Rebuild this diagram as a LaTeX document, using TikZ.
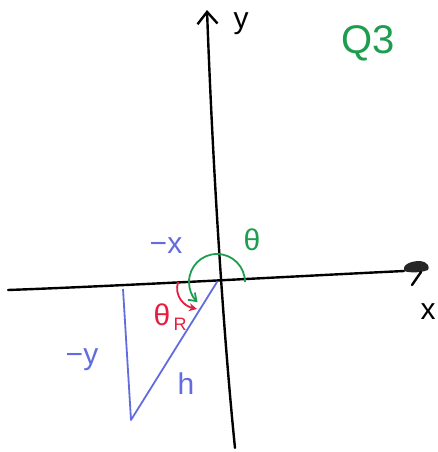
\documentclass[tikz,border=0pt]{standalone}
\usepackage{fontspec}
\setmainfont{Liberation Sans}
\usetikzlibrary{arrows.meta}
\definecolor{penblue}{RGB}{98,108,222}
\definecolor{pengreen}{RGB}{28,158,78}
\definecolor{penred}{RGB}{232,28,62}
\tikzset{
  ink/.style={line width=2.4pt,line cap=round},
  lbl/.style={font=\fontsize{30}{36}\selectfont,inner sep=0pt}
}
\begin{document}
\begin{tikzpicture}[x=1pt,y=1pt]
      \useasboundingbox (0,0) rectangle (438,-452);
      \coordinate (O) at (217,-282);
      \coordinate (xl) at (8,-290);
      \coordinate (xr) at (404,-271);
      \coordinate (yb) at (235,-448);
      \coordinate (yt) at (207,-10);
      % axes
      \draw[ink] (xl) .. controls (120,-286) and (300,-276) .. (xr);
      \fill[black!85] (xr) .. controls (402,-265) and (410,-261) .. (420,-261)
        .. controls (428,-262) and (430,-267) .. (428,-270)
        .. controls (420,-273) and (410,-273) .. cycle;
      \draw[ink] (421,-272) -- (412,-285);
      \draw[ink,-{Straight Barb[length=12pt,width=20pt]}] (yb) .. controls (226,-360) and (214,-200) .. (yt);
      \node[lbl] (ylab) at (241,-24) {y};
      \node[lbl] (xlab) at (428,-312) {x};
      \node[lbl,pengreen,font=\fontsize{40}{46}\selectfont] (quad) at (368,-43) {Q3};
      % triangle
      \coordinate (tb) at (131,-420);
      \coordinate (tl) at (123,-289);
      \draw[penblue,line width=1.8pt,line join=round] (O) -- (tb) -- (tl);
      \node[lbl,penblue] (mx) at (166,-246) {−x};
      \node[lbl,penblue] (my) at (82,-360) {−y};
      \node[lbl,penblue] (hyp) at (186,-384) {h};
      % angles
      \draw[pengreen,line width=1.8pt,-{Straight Barb[length=7pt,width=10pt]}] (O) ++(28,0) arc[start angle=0,end angle=226,radius=28];
      \node[lbl,pengreen] (th) at (252,-240) {θ};
      \coordinate (ra) at (178,-282);
      \coordinate (rb) at (197,-309);
      \draw[penred,line width=1.8pt,-{Stealth[length=8pt,width=8pt]}] (ra) .. controls (174,-296) and (184,-306) .. (rb);
      \node[lbl,penred] (thr) at (162,-315) {θ};
      \node[lbl,penred,font=\fontsize{18}{22}\selectfont] (thrsub) at (180,-324) {R};
    \end{tikzpicture}
\end{document}
